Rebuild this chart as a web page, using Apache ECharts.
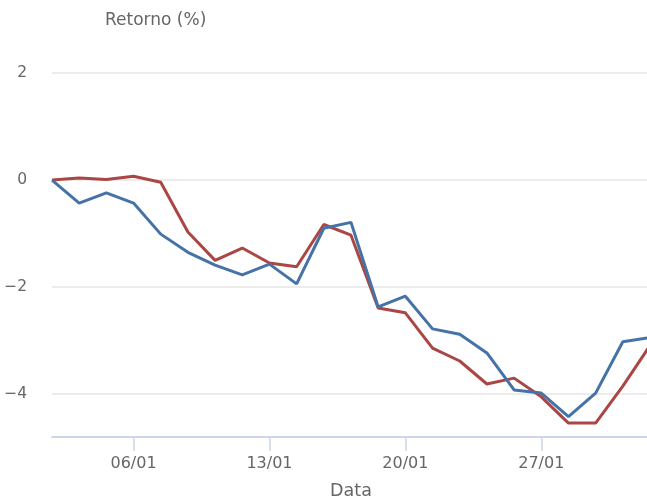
<!DOCTYPE html>
<html>
<head>
<meta charset="utf-8">
<script src="https://cdn.jsdelivr.net/npm/echarts@6/dist/echarts.min.js"></script>
<style>html,body{margin:0;padding:0;background:#fff}#c{width:647px;height:503px}</style>
</head>
<body>
<div id="c"></div>
<script>
const categories = ['30/12','02/01','03/01','06/01','07/01','08/01','09/01','10/01','13/01','14/01','15/01','16/01','17/01','20/01','21/01','22/01','23/01','24/01','27/01','28/01','29/01','30/01','31/01'];
const blueValues = [0, -0.43, -0.24, -0.43, -1.01, -1.35, -1.59, -1.77, -1.57, -1.94, -0.90, -0.79, -2.37, -2.17, -2.78, -2.88, -3.23, -3.92, -3.98, -4.42, -3.98, -3.02, -2.94];
const redValues = [0, 0.04, 0.01, 0.07, -0.04, -0.97, -1.50, -1.27, -1.55, -1.62, -0.83, -1.03, -2.39, -2.48, -3.14, -3.38, -3.81, -3.70, -4.05, -4.54, -4.54, -3.85, -3.09];
const xTickLabels = ['06/01','13/01','20/01','27/01'];
const yTickValues = [-4, -2, 0, 2];

const FONT = '"DejaVu Sans", Verdana, sans-serif';
const showTick = (i, v) => xTickLabels.indexOf(v) >= 0;

const chart = echarts.init(document.getElementById('c'), null, {renderer: 'canvas'});
chart.setOption({
  animation: false,
  backgroundColor: '#ffffff',
  title: {
    text: 'Retorno (%)',
    left: 100, top: 7,
    textStyle: {color: '#666666', fontSize: 17, fontWeight: 'normal', fontFamily: FONT}
  },
  grid: {left: 52, right: -3, top: 73, bottom: 66, containLabel: false, outerBoundsMode: 'none'},
  xAxis: {
    type: 'category',
    data: categories,
    boundaryGap: false,
    name: 'Data',
    nameLocation: 'middle',
    nameGap: 45,
    nameTextStyle: {color: '#666666', fontSize: 17.5, fontFamily: FONT},
    axisLine: {onZero: false, lineStyle: {color: '#ccd6eb', width: 2}},
    axisTick: {show: true, interval: showTick, length: 14, lineStyle: {color: '#ccd6eb', width: 1.5}},
    axisLabel: {interval: showTick, color: '#666666', fontSize: 16, fontFamily: FONT, margin: 19},
    splitLine: {show: false}
  },
  yAxis: {
    type: 'value',
    min: -4.8,
    max: 2,
    axisLine: {show: false},
    axisTick: {show: false, customValues: yTickValues},
    axisLabel: {
      customValues: yTickValues,
      color: '#666666', fontSize: 15.5, fontFamily: FONT, margin: 25,
      formatter: v => String(v).replace('-', '\u2212')
    },
    splitLine: {show: true, lineStyle: {color: '#e6e6e6', width: 1.5}}
  },
  series: [
    {type: 'line', data: blueValues, symbol: 'none', lineStyle: {color: '#4572A7', width: 3}, itemStyle: {color: '#4572A7'}, z: 3},
    {type: 'line', data: redValues, symbol: 'none', lineStyle: {color: '#AA4643', width: 3}, itemStyle: {color: '#AA4643'}, z: 2}
  ]
});
</script>
</body>
</html>
